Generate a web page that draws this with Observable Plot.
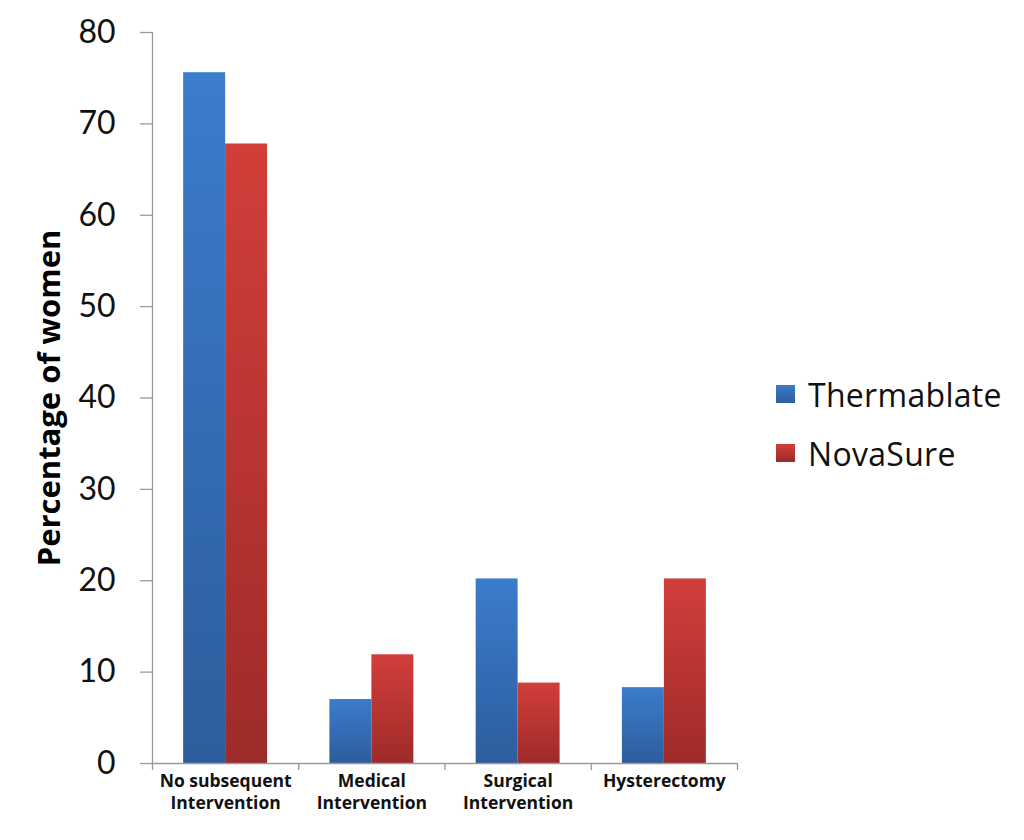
<!DOCTYPE html>
<html>
<head>
<meta charset="utf-8">
<script src="https://cdn.jsdelivr.net/npm/d3@7"></script>
<script src="https://cdn.jsdelivr.net/npm/@observablehq/plot@0.6"></script>
<style>
  html, body { margin: 0; padding: 0; background: #fff; }
  #wrap { position: relative; width: 1024px; height: 840px; overflow: hidden; }
  #legend { position: absolute; left: 776px; top: 378px; font-family: "Open Sans", sans-serif; font-size: 32px; color: #111; letter-spacing: 0.3px; }
  .item { display: flex; align-items: center; height: 32px; margin-bottom: 27px; }
  .sw { width: 19px; height: 18px; margin-right: 13px; }
</style>
</head>
<body>
<div id="wrap">
  <div id="chart"></div>
  <div id="legend"></div>
</div>
<script>
const categories = ["No subsequent\nIntervention", "Medical\nIntervention", "Surgical\nIntervention", "Hysterectomy"];
const series = ["Thermablate", "NovaSure"];
const thermablate = [75.6, 7.0, 20.2, 8.3];
const novasure = [67.8, 11.9, 8.8, 20.2];
const yTicks = [0, 10, 20, 30, 40, 50, 60, 70, 80];

const data = [];
categories.forEach((c, i) => {
  data.push({cat: c, i, series: series[0], value: thermablate[i]});
  data.push({cat: c, i, series: series[1], value: novasure[i]});
});

const half = 0.287;
const axisGray = "#9a9a9a";

const plot = Plot.plot({
  width: 760,
  height: 840,
  marginLeft: 152,
  marginRight: 23,
  marginTop: 32,
  marginBottom: 77,
  style: {fontFamily: "Lato, sans-serif", background: "#fff"},
  x: {type: "linear", domain: [0, categories.length], axis: null},
  y: {domain: [0, 80], axis: null},
  marks: [
    Plot.rectY(data, {
      x1: d => d.i + (d.series === series[0] ? 0.5 - half : 0.5),
      x2: d => d.i + (d.series === series[0] ? 0.5 : 0.5 + half),
      y1: 0,
      y2: "value",
      fill: d => d.series === series[0] ? "url(#gBlue)" : "url(#gRed)"
    }),
    Plot.ruleX([0], {y1: 0, y2: 80, stroke: axisGray, strokeWidth: 1.3}),
    Plot.ruleY([0], {x1: 0, x2: categories.length, stroke: axisGray, strokeWidth: 1.3}),
    Plot.axisY({ticks: yTicks, tickSize: 12, tickPadding: 25, stroke: axisGray, strokeWidth: 1.3, fontSize: 32, color: "#111", label: null}),
    Plot.axisX({ticks: d3.range(0, categories.length + 1), tickSize: 7, stroke: axisGray, strokeWidth: 1.3, tickFormat: () => "", label: null}),
    Plot.axisX({ticks: categories.map((c, i) => i + 0.5), tickSize: 0, tickPadding: 7, tickFormat: v => categories[Math.round(v - 0.5)], fontSize: 17.5, fontWeight: "bold", fontFamily: "Open Sans, sans-serif", lineHeight: 1.3, color: "#111", label: null}),
    Plot.text(["Percentage of women"], {
      frameAnchor: "left", textAnchor: "middle", dx: -102, rotate: -90, text: d => d,
      fontSize: 31, fontWeight: "bold", fontFamily: "Open Sans, sans-serif", fill: "#000"
    })
  ]
});

// gradients
const ns = "http://www.w3.org/2000/svg";
const defs = document.createElementNS(ns, "defs");
function grad(id, top, bottom) {
  const g = document.createElementNS(ns, "linearGradient");
  g.setAttribute("id", id);
  g.setAttribute("x1", "0"); g.setAttribute("y1", "0");
  g.setAttribute("x2", "0"); g.setAttribute("y2", "1");
  [[0, top], [1, bottom]].forEach(([o, c]) => {
    const s = document.createElementNS(ns, "stop");
    s.setAttribute("offset", o);
    s.setAttribute("stop-color", c);
    g.appendChild(s);
  });
  defs.appendChild(g);
}
grad("gBlue", "#3b7ccc", "#2d5d9c");
grad("gRed", "#d23e3a", "#9d2b29");
plot.insertBefore(defs, plot.firstChild);
document.getElementById("chart").appendChild(plot);

const legend = document.getElementById("legend");
const swatches = [["#3b7ccc", "#2d5d9c"], ["#d23e3a", "#9d2b29"]];
series.forEach((s, k) => {
  const item = document.createElement("div");
  item.className = "item";
  const sw = document.createElement("div");
  sw.className = "sw";
  sw.style.background = `linear-gradient(${swatches[k][0]}, ${swatches[k][1]})`;
  const t = document.createElement("span");
  t.textContent = s;
  item.appendChild(sw); item.appendChild(t);
  legend.appendChild(item);
});
</script>
</body>
</html>
